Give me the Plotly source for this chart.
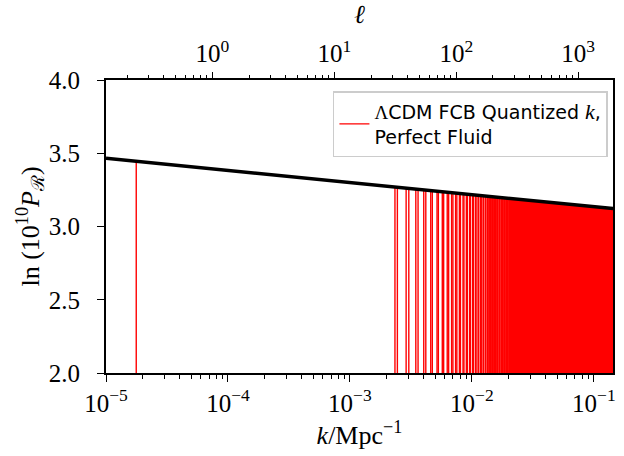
import numpy as np
import plotly.graph_objects as go

# Primordial spectrum ln(10^10 P_R): straight in log k, given by its values at the axis ends
k_ends = [1.0e-5, 0.1436]          # Mpc^-1
lnP_ends = [3.466, 3.122]

# Quantized wavenumbers (Mpc^-1): the lowest mode, then the pairs that start near 2.3e-3
k_low = [1.77e-5]
k_pairs_1e3 = [
    2.34, 2.45, 2.89, 3.04, 3.47, 3.62, 4.03, 4.19, 4.60, 4.74,
    5.18, 5.31, 5.72, 5.87, 6.28, 6.45, 6.82, 6.99, 7.35, 7.53,
    7.90, 8.06, 8.46, 8.61, 9.01, 9.17, 9.57, 9.72, 10.12, 10.28,
    10.68, 10.83, 11.23, 11.39, 11.79, 11.94, 12.34, 12.50, 12.90, 13.05,
    13.45, 13.61, 14.01, 14.16, 14.56, 14.72, 15.12, 15.27, 15.67, 15.83,
    16.23, 16.38, 16.78, 16.94, 17.34, 17.49, 17.89, 18.05, 18.45, 18.60,
    19.00, 19.16, 19.56, 19.71, 20.11, 20.27,
]
# Above this k the modes are packed closer than a pixel and form a continuous band
k_band = [0.0203, 0.1436]

# Multipole scale: ell = k * D
D_mpc = 13430.0

x_ticks = [1e-5, 1e-4, 1e-3, 1e-2, 1e-1]
x_ticktext = ["10<sup>−5</sup>", "10<sup>−4</sup>", "10<sup>−3</sup>",
              "10<sup>−2</sup>", "10<sup>−1</sup>"]
ell_ticks = [1, 10, 100, 1000]
ell_ticktext = ["10<sup>0</sup>", "10<sup>1</sup>", "10<sup>2</sup>", "10<sup>3</sup>"]
y_ticks = [2.0, 2.5, 3.0, 3.5, 4.0]
y_min, y_max = 2.0, 4.0


def spectrum(k):
    return np.interp(np.log10(k), np.log10(k_ends), lnP_ends)


k_modes = np.array(k_low + [v * 1e-3 for v in k_pairs_1e3])
tops = spectrum(k_modes)

xs, ys = [], []
for k, t in zip(k_modes, tops):
    xs += [k, k, None]
    ys += [y_min, t, None]

RED = "#ff0000"
SERIF = "Liberation Serif"
SANS = "DejaVu Sans"

fig = go.Figure()

# dense band of modes
kb = np.array(k_band)
tb = spectrum(kb)
fig.add_trace(go.Scatter(
    x=[kb[0], kb[0], kb[1], kb[1]], y=[y_min, tb[0], tb[1], y_min],
    fill="toself", fillcolor=RED, line=dict(color=RED, width=0.5),
    mode="lines", showlegend=False, hoverinfo="skip",
))

# individual modes
fig.add_trace(go.Scatter(
    x=xs, y=ys, mode="lines", line=dict(color=RED, width=1.4),
    name="<span style='font-family:Liberation Serif'>Λ</span>CDM FCB Quantized "
         "<i style='font-family:Liberation Serif;font-size:22px'>k</i>,<br>Perfect Fluid",
))

# power spectrum
fig.add_trace(go.Scatter(
    x=k_ends, y=lnP_ends, mode="lines", line=dict(color="black", width=3.5),
    showlegend=False, hoverinfo="skip",
))

# carrier for the multipole axis
fig.add_trace(go.Scatter(
    x=[k_ends[0] * D_mpc, k_ends[1] * D_mpc], y=[None, None], xaxis="x2",
    mode="lines", showlegend=False, hoverinfo="skip",
))

x_range = [np.log10(k_ends[0]), np.log10(k_ends[1])]
minor_k = [m * 10.0 ** e for e in range(-5, 0) for m in range(2, 10)]
minor_ell = [m * 10.0 ** e for e in range(-1, 4) for m in range(2, 10)]

tickfont = dict(family=SERIF, size=25, color="black")
titlefont = dict(family=SERIF, size=26, color="black")

fig.update_layout(
    width=624, height=456,
    margin=dict(l=106, r=8, t=80, b=83),
    paper_bgcolor="white", plot_bgcolor="white",
    xaxis=dict(
        type="log", range=x_range,
        tickmode="array", tickvals=x_ticks, ticktext=x_ticktext,
        ticks="outside", ticklen=7, tickwidth=1.3, tickcolor="black",
        minor=dict(tickmode="array", tickvals=minor_k, ticks="outside",
                   ticklen=4, tickwidth=1, tickcolor="black", showgrid=False),
        showline=True, linecolor="black", linewidth=1.8, mirror=True,
        showgrid=False, zeroline=False, tickfont=tickfont,
        title=dict(text="<i>k</i>/Mpc<sup>−1</sup>", font=titlefont, standoff=6),
    ),
    xaxis2=dict(
        type="log", overlaying="x", side="top", anchor="y",
        range=[r + np.log10(D_mpc) for r in x_range],
        tickmode="array", tickvals=ell_ticks, ticktext=ell_ticktext,
        ticks="outside", ticklen=7, tickwidth=1.3, tickcolor="black",
        minor=dict(tickmode="array", tickvals=minor_ell, ticks="outside",
                   ticklen=4, tickwidth=1, tickcolor="black", showgrid=False),
        showline=False, showgrid=False, zeroline=False, tickfont=tickfont,
        title=dict(text="<i>ℓ</i>", font=titlefont, standoff=8),
    ),
    yaxis=dict(
        range=[y_min, y_max], tickmode="array", tickvals=y_ticks,
        ticktext=[f"{v:.1f}" for v in y_ticks],
        ticks="outside", ticklen=7, tickwidth=1.3, tickcolor="black",
        ticklabelstandoff=12,
        showline=True, linecolor="black", linewidth=1.8, mirror=True,
        showgrid=False, zeroline=False, tickfont=tickfont,
        title=dict(text="ln (10<sup>10</sup><i>P</i><sub>ℛ</sub>)",
                   font=titlefont, standoff=2),
    ),
    legend=dict(
        x=0.99, xanchor="right", y=0.962, yanchor="top",
        bgcolor="rgba(255,255,255,0.85)", bordercolor="#cccccc", borderwidth=1.5,
        font=dict(family=SANS, size=19, color="black"), valign="middle",
    ),
)

fig.write_html("out.html")
